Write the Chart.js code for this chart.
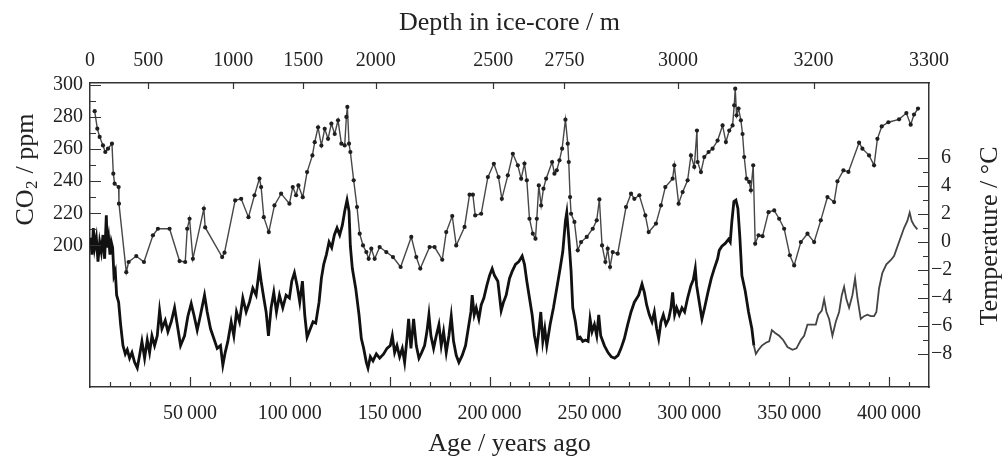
<!DOCTYPE html>
<html>
<head>
<meta charset="utf-8">
<title>Ice core: CO2 and temperature</title>
<script src="https://cdn.jsdelivr.net/npm/chart.js@4.4.1/dist/chart.umd.min.js"></script>
<style>
  html, body { margin: 0; padding: 0; background: #fff; }
</style>
</head>
<body>
<canvas id="chart" width="1003" height="457"></canvas>
<script>
// ---- data (age in years before present) ----

const co2Age = [
    2333, 3667, 4833, 6500, 7667, 9000, 11000, 11667, 12333, 14333,
    14500, 18167, 19333, 23167, 27000, 31500, 34000, 39833, 44833, 47667,
    48667, 49833, 51500, 57000, 57667, 66167, 67333, 72667, 75667, 79333,
    82333, 84833, 85667, 87000, 89500, 92333, 95667, 99833, 101500, 103167,
    104333, 106500,
    108667, 111333, 112500, 114167, 115833, 117500, 119167, 120833, 122500, 124167,
    125833, 127500, 128333, 128833, 129667, 130333, 132000, 133667, 135000, 136667,
    138333, 139500, 140833, 142500, 145000, 148333, 151667, 155500, 160833, 163333,
    165333, 170000, 172500, 176333, 178333, 181333, 183333, 187500, 190000, 191667,
    192833, 195833, 199167, 202167, 204500, 206167, 209167, 211667,
    214167, 215833, 217500, 218667, 220000, 221667, 223000, 223667, 224667, 225833,
    227000, 228333, 231333, 232500, 233667, 235000, 236333, 238000, 239167, 239667,
    240333, 240833, 242500, 244167, 245833, 248667, 251667, 253667, 255000, 256333,
    258000, 259167, 260333, 261667, 264167, 268333, 270833, 272500, 275000, 278000,
    279667, 283333, 285833, 288000, 291667, 292500, 294667, 296667, 299167, 300833,
    302500, 303833, 304167, 305833, 307500, 309667, 311667, 314167,
    316667, 318333, 320000, 321667, 322500, 323000, 323667, 324667, 325833, 326667,
    327500, 328667, 330000, 330833, 332000, 333000, 334667, 336667, 339667, 342500,
    345000, 347500, 350333, 352500, 355833, 359167, 362500, 365833, 369167, 372500,
    374167, 377167, 379667, 385000, 386667, 390000, 392500, 394167, 396333, 399667,
    405000, 408667, 410833, 412500, 414500
];
const co2Ppm = [
    283.5, 272.6, 267.5, 262.2, 258.1, 260.2, 263.3, 244.6, 238.4, 236.3,
    226.0, 183.4, 189.7, 193.4, 189.7, 206.3, 210.4, 210.4, 190.3, 189.7,
    210.4, 216.6, 191.7, 222.9, 211.2, 192.8, 195.5, 228.0, 229.0, 217.6,
    231.2, 241.6, 236.3, 217.6, 208.3, 224.9, 232.2, 226.0, 236.3, 231.2,
    237.3, 230.0,
    245.6, 256.0, 264.2, 273.5, 262.1, 272.5, 266.3, 275.7, 269.3, 277.8,
    263.3, 262.2, 279.9, 286.1, 263.3, 258.1, 240.5, 223.9, 207.3, 200.0,
    195.9, 191.7, 198.0, 191.7, 199.0, 195.9, 192.8, 186.6, 205.3, 192.8,
    185.6, 199.0, 199.0, 191.1, 208.3, 218.3, 200.0, 211.5, 231.6, 231.6,
    218.7, 219.7, 242.5, 250.8, 242.5, 229.0, 243.6, 257.0,
    249.8, 241.5, 250.9, 240.5, 216.6, 207.3, 204.2, 216.6, 237.3, 224.9,
    235.3, 241.5, 251.9, 244.6, 246.7, 252.9, 260.2, 278.2, 263.3, 251.9,
    230.1, 219.7, 214.6, 197.0, 202.1, 205.3, 210.4, 215.6, 228.6, 200.0,
    189.7, 198.0, 186.6, 195.9, 194.9, 223.9, 232.2, 229.0, 231.2, 218.7,
    208.3, 213.6, 224.9, 236.3, 241.5, 249.8, 226.0, 233.2, 240.5, 256.0,
    248.8, 271.4, 251.9, 245.6, 255.0, 258.1, 260.2, 265.2,
    274.6, 264.3, 271.4, 274.6, 287.1, 297.5, 280.9, 285.1, 277.8, 269.3,
    255.0, 241.5, 239.5, 234.3, 249.8, 201.1, 206.3, 205.8, 220.7, 221.8,
    216.6, 210.4, 193.9, 187.6, 202.1, 207.3, 202.1, 215.6, 230.1, 227.0,
    239.9, 246.7, 245.7, 263.9, 260.2, 256.0, 249.8, 266.3, 274.0, 276.6,
    278.4, 282.3, 275.1, 281.4, 285.1
];

const tempAge = [
    333, 1000, 1667, 2333, 3167, 4000, 4833, 5667, 6500, 7333,
    8167, 8667, 9333, 10000, 10667, 11333, 12000, 12667, 13333, 14333,
    15333, 16500, 17667, 18667, 19833, 21000, 22333, 23667, 24833, 26000,
    27333, 28667, 29833, 31000, 32333, 33667, 34833, 36000, 37667, 39000,
    40667, 42333, 43667, 45333, 47333, 49000, 50667, 52000, 53667, 55333,
    57333, 58667, 60333, 62000, 63667, 65333, 66500, 67667, 69000, 70667,
    72000, 73333, 74833, 76500, 78167, 79833, 81500, 83167, 84833, 85667,
    87000, 88167, 89333, 90667, 92000, 93333, 94833, 96500, 98167, 99833,
    101000, 102333, 103667,
    105000, 106333, 107500, 108667, 110000, 111667, 113000, 114667, 115833, 117000,
    118333, 119667, 121000, 122333, 123667, 125000, 126333, 127500, 128667, 129667,
    130333, 131333, 133000, 134667, 135833, 137000, 138333, 139167, 140333, 141667,
    143333, 145000, 147000, 148667, 150333, 151333, 152500, 153667, 155000, 156333,
    157500, 158667, 159500, 160667, 162000, 163333, 164667, 166000, 167500, 168667,
    169667, 170667, 172000, 173333, 174667, 175833, 177000, 178333, 179667, 180833,
    182000, 183333, 184667, 186333, 188000, 189333, 190667, 191333, 192333, 193333,
    194667, 195833, 197167, 198667, 200000, 201333, 202500, 204167, 205833, 207000,
    208333,
    210000, 211333, 213000, 214667, 216333, 217500, 218667, 220000, 221333, 222500,
    223667, 224667, 225667, 226667, 227667, 228667, 230333, 232000, 233667, 235333,
    236667, 238000, 238667, 239667, 240833, 241667, 243000, 244167, 245333, 246667,
    248000, 249333, 250333, 251333, 252500, 253667, 254667, 255667, 257500, 259333,
    261000, 262667, 264333, 265833, 267500, 269167, 270833, 272500, 274667, 276333,
    277500, 278667, 280000, 281333, 282500, 283667, 284667, 285833, 287000, 288333,
    289667, 290833, 291667, 292667, 293667, 295000, 296333, 297667, 299167, 300833,
    302000, 303000, 303667, 305000, 306333, 307667, 309333, 311000, 312500, 314167,
    315000, 316333, 318000, 319667, 320500, 321333, 322333, 323333, 324333, 325333,
    326333, 328000, 329667, 331333, 332333, 333333, 334667, 336333, 338333, 340000,
    341333, 343000, 345000, 347000, 349167, 351667, 353667, 355833, 357500, 359167,
    361333, 363333, 364667, 366333, 367500, 368667, 370000, 371667, 373333, 375000,
    376333, 377500, 378667, 380000, 381667, 383000, 384167, 385833, 387500, 389167,
    390833, 392500, 393667, 395000, 396667, 398667, 400833, 402500, 405000, 407500,
    409167, 410333, 411333, 412500, 414167
];
const tempC = [
    0.3, -0.9, 1.0, -0.4, 0.3, -1.4, 0.0, -0.7, 0.5, -1.2,
    1.9, -0.4, 0.3, -0.9, 0.0, -0.4, -2.4, -2.1, -3.8, -4.3,
    -5.9, -7.4, -8.0, -7.7, -8.3, -7.9, -8.6, -9.0, -8.1, -7.1,
    -8.3, -7.0, -7.9, -6.7, -7.4, -6.7, -4.9, -6.2, -5.6, -6.4,
    -5.7, -4.7, -5.9, -7.4, -6.7, -5.3, -4.4, -5.2, -6.3, -5.2,
    -3.8, -5.0, -6.2, -6.9, -7.6, -7.4, -8.8, -7.9, -7.1, -5.7,
    -6.7, -5.0, -5.7, -4.0, -5.0, -4.3, -3.3, -3.8, -1.9, -2.8,
    -4.0, -5.0, -6.7, -4.7, -3.6, -5.0, -3.8, -4.7, -3.8, -4.0,
    -2.8, -2.2, -3.1,
    -4.3, -2.8, -5.2, -6.8, -6.3, -5.7, -5.8, -4.3, -2.6, -1.6,
    -0.9, 0.0, -0.4, 0.5, 1.0, 0.5, 1.2, 2.2, 3.0, 2.2,
    -0.3, -1.9, -3.3, -5.2, -6.9, -7.6, -8.6, -9.0, -8.2, -8.5,
    -8.0, -8.3, -8.0, -7.6, -7.4, -6.7, -7.9, -7.4, -8.2, -7.6,
    -8.6, -6.9, -5.5, -7.6, -5.5, -7.4, -8.3, -7.9, -7.4, -6.4,
    -5.2, -6.7, -7.6, -6.7, -5.9, -7.4, -6.4, -7.9, -6.7, -5.3,
    -7.1, -8.1, -8.6, -8.1, -7.4, -6.2, -5.0, -3.8, -5.2, -4.7,
    -5.5, -4.5, -4.0, -3.1, -2.4, -1.9, -2.4, -2.8, -4.9, -4.3,
    -3.8,
    -2.6, -2.1, -1.6, -1.4, -1.0, -1.6, -2.8, -4.0, -5.2, -6.7,
    -7.6, -6.4, -5.0, -7.1, -6.2, -7.4, -5.9, -4.7, -3.3, -1.9,
    -0.7, 1.5, 2.1, 0.3, -2.1, -4.7, -5.7, -6.9, -6.8, -7.1,
    -7.0, -7.1, -5.5, -6.4, -5.9, -6.7, -5.2, -6.7, -7.4, -7.9,
    -8.2, -8.3, -8.1, -7.6, -6.9, -5.9, -5.0, -4.3, -3.8, -3.0,
    -3.6, -4.5, -5.2, -5.7, -5.0, -6.2, -6.9, -5.7, -5.2, -5.9,
    -5.5, -4.7, -3.6, -5.2, -4.7, -5.2, -4.7, -5.0, -4.0, -3.1,
    -2.7, -1.9, -3.1, -4.3, -5.5, -4.7, -3.6, -2.6, -1.9, -1.2,
    -0.6, -0.3, -0.1, 0.2, 0.0, 1.5, 2.9, 3.0, 2.4, 0.3,
    -2.4, -3.5, -5.0, -6.2, -7.4, -8.0, -7.7, -7.4, -7.2, -7.1,
    -6.3, -6.5, -6.7, -7.0, -7.5, -7.7, -7.6, -7.0, -6.7, -5.9,
    -5.9, -5.9, -5.2, -4.9, -4.1, -5.0, -5.5, -6.7, -5.7, -5.0,
    -3.8, -3.2, -4.1, -4.7, -3.8, -2.6, -4.0, -5.5, -5.3, -5.2,
    -5.3, -5.3, -5.0, -3.3, -2.2, -1.6, -1.3, -1.0, 0.0, 1.0,
    1.5, 2.1, 1.5, 1.2, 0.9
];

// tick labels
const ageTicks = [50000, 100000, 150000, 200000, 250000, 300000, 350000, 400000];
const co2Ticks = [200, 220, 240, 260, 280, 300];
const tempTicks = [-8, -6, -4, -2, 0, 2, 4, 6];
const depthLabels = ['0', '500', '1000', '1500', '2000', '2500', '2750', '3000', '3200', '3300'];
const depthAges = [0, 29100, 71700, 106700, 143000, 201900, 237500, 294300, 362200, 420000];

// ---- styling ----
const FAMILY = "'Liberation Serif', 'Times New Roman', serif";
const TEXT = '#222';
const AXIS = '#333';
const TICK_FONT = { family: FAMILY, size: 20 };

function fmtAge(v) {
    return (v / 1000) + '\u2009000';
}

function fmtTemp(v) {
    return v < 0 ? '\u2212' + Math.abs(v) : '\u2007' + v;
}

// ticks point into the plot on all four sides
const insideTicks = {
    id: 'insideTicks',
    afterDraw(chart) {
        const { ctx, chartArea: a, scales } = chart;
        ctx.save();
        ctx.strokeStyle = AXIS;
        ctx.lineWidth = 1.2;
        ctx.beginPath();
        for (let v = 10000; v < 420000; v += 10000) {
            const x = Math.round(scales.x.getPixelForValue(v)) + 0.5;
            ctx.moveTo(x, a.bottom);
            ctx.lineTo(x, a.bottom - (v % 50000 === 0 ? 10 : 5));
        }
        depthAges.slice(1, -1).forEach(v => {
            const x = Math.round(scales.xTop.getPixelForValue(v)) + 0.5;
            ctx.moveTo(x, a.top);
            ctx.lineTo(x, a.top + 6);
        });
        for (let v = 200; v <= 300; v += 10) {
            const y = Math.round(scales.y.getPixelForValue(v)) + 0.5;
            ctx.moveTo(a.left, y);
            ctx.lineTo(a.left + (v % 20 === 0 ? 11 : 6), y);
        }
        for (let v = -8; v <= 6; v++) {
            const y = Math.round(scales.yT.getPixelForValue(v)) + 0.5;
            ctx.moveTo(a.right, y);
            ctx.lineTo(a.right - (v % 2 === 0 ? 11 : 6), y);
        }
        ctx.stroke();
        ctx.restore();
    }
};

// vertical axis titles (CO2 with a real subscript)
const sideTitles = {
    id: 'sideTitles',
    afterDraw(chart) {
        const { ctx, chartArea: a } = chart;
        const big = `26px ${FAMILY}`;
        const small = `17px ${FAMILY}`;

        ctx.save();
        ctx.fillStyle = TEXT;
        ctx.textBaseline = 'middle';
        ctx.textAlign = 'left';
        ctx.translate(26, 170);
        ctx.rotate(-Math.PI / 2);
        ctx.font = big;
        const wCO = ctx.measureText('CO').width;
        const wRest = ctx.measureText(' / ppm').width;
        ctx.font = small;
        const w2 = ctx.measureText('2').width;
        let x = -(wCO + w2 + wRest) / 2;
        ctx.font = big;
        ctx.fillText('CO', x, 0);
        x += wCO;
        ctx.font = small;
        ctx.fillText('2', x + 0.5, 7);
        x += w2 + 1;
        ctx.font = big;
        ctx.fillText(' / ppm', x, 0);
        ctx.restore();

        ctx.save();
        ctx.fillStyle = TEXT;
        ctx.font = big;
        ctx.textBaseline = 'middle';
        ctx.textAlign = 'center';
        ctx.translate(990, (a.top + a.bottom) / 2 + 1);
        ctx.rotate(-Math.PI / 2);
        ctx.fillText('Temperature / \u00B0C', 0, 0);
        ctx.restore();
    }
};

const co2Data = co2Age.map((age, i) => ({ x: age, y: co2Ppm[i] }));
const tempData = tempAge.map((age, i) => ({ x: age, y: tempC[i] }));

// the record is sparser (and drawn lighter) in the deepest part
const late = c => c.p0.parsed.x > 332000;

new Chart(document.getElementById('chart'), {
    type: 'line',
    data: {
        datasets: [
            {
                label: 'CO2',
                data: co2Data,
                yAxisID: 'y',
                borderColor: '#474747',
                borderWidth: 1.4,
                pointRadius: 2.1,
                pointBackgroundColor: '#1e1e1e',
                pointBorderColor: '#1e1e1e',
                pointBorderWidth: 0,
                tension: 0
            },
            {
                label: 'Temperature',
                data: tempData,
                yAxisID: 'yT',
                borderColor: '#111',
                borderWidth: 2.8,
                borderJoinStyle: 'miter',
                pointRadius: 0,
                tension: 0,
                segment: {
                    borderColor: c => late(c) ? '#444' : '#111',
                    borderWidth: c => late(c) ? 1.8 : 2.8
                }
            }
        ]
    },
    options: {
        responsive: false,
        animation: false,
        events: [],
        layout: { padding: 0 },
        plugins: {
            legend: { display: false },
            tooltip: { enabled: false }
        },
        scales: {
            x: {
                type: 'linear',
                position: 'bottom',
                min: 0,
                max: 420000,
                afterBuildTicks: s => { s.ticks = ageTicks.map(v => ({ value: v })); },
                afterFit: s => { s.height = 70; },
                grid: { display: false, drawTicks: false },
                border: { display: true, color: AXIS, width: 1.5 },
                ticks: {
                    autoSkip: false, maxRotation: 0, padding: 15,
                    color: TEXT, font: TICK_FONT,
                    callback: v => fmtAge(v)
                },
                title: {
                    display: true, text: 'Age / years ago', color: TEXT,
                    font: { family: FAMILY, size: 26, lineHeight: 1 },
                    padding: 0
                }
            },
            xTop: {
                type: 'linear',
                position: 'top',
                min: 0,
                max: 420000,
                afterBuildTicks: s => { s.ticks = depthAges.map(v => ({ value: v })); },
                afterFit: s => { s.height = 83; },
                grid: { display: false, drawTicks: false },
                border: { display: true, color: AXIS, width: 1.5 },
                ticks: {
                    autoSkip: false, maxRotation: 0, padding: 10,
                    color: TEXT, font: TICK_FONT,
                    callback: (v, i) => depthLabels[i]
                },
                title: {
                    display: true, text: 'Depth in ice-core / m', color: TEXT,
                    font: { family: FAMILY, size: 26, lineHeight: 1 },
                    padding: { top: 10, bottom: 0 }
                }
            },
            y: {
                type: 'linear',
                position: 'left',
                min: 112,
                max: 301,
                afterBuildTicks: s => { s.ticks = co2Ticks.map(v => ({ value: v })); },
                afterFit: s => { s.width = 90; },
                grid: { display: false, drawTicks: false },
                border: { display: true, color: AXIS, width: 1.5 },
                ticks: { padding: 7, color: TEXT, font: TICK_FONT }
            },
            yT: {
                type: 'linear',
                position: 'right',
                min: -10.36,
                max: 11.36,
                afterBuildTicks: s => { s.ticks = tempTicks.map(v => ({ value: v })); },
                afterFit: s => { s.width = 74; },
                grid: { display: false, drawTicks: false },
                border: { display: true, color: AXIS, width: 1.5 },
                ticks: {
                    padding: 2, color: TEXT, font: TICK_FONT,
                    callback: v => fmtTemp(v)
                }
            }
        }
    },
    plugins: [insideTicks, sideTitles]
});
</script>
</body>
</html>
